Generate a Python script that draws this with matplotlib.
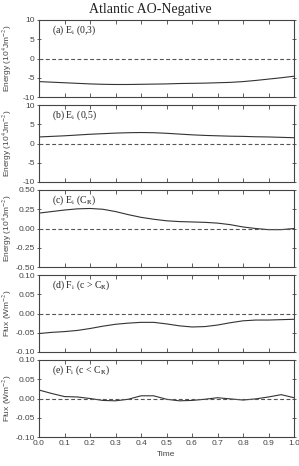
import matplotlib
matplotlib.use("Agg")
import matplotlib.pyplot as plt
import numpy as np

time = [0.0, 0.05, 0.1, 0.15, 0.2, 0.25, 0.3, 0.35, 0.4, 0.45, 0.5,
        0.55, 0.6, 0.65, 0.7, 0.75, 0.8, 0.85, 0.9, 0.95, 1.0]

ei_03 = [-6.0, -6.15, -6.3, -6.45, -6.6, -6.7, -6.75, -6.75, -6.7, -6.65, -6.6,
         -6.5, -6.45, -6.4, -6.3, -6.2, -6.0, -5.7, -5.35, -5.0, -4.6]
ei_05 = [1.7, 1.85, 2.0, 2.2, 2.4, 2.55, 2.7, 2.8, 2.85, 2.8, 2.65,
         2.45, 2.25, 2.1, 2.0, 1.9, 1.85, 1.75, 1.7, 1.6, 1.5]
ei_cr = [0.20, 0.22, 0.24, 0.255, 0.26, 0.25, 0.22, 0.18, 0.145, 0.12, 0.10,
         0.09, 0.085, 0.08, 0.07, 0.05, 0.02, 0.0, -0.015, -0.015, 0.0]
fi_gt = [-0.052, -0.049, -0.047, -0.044, -0.039, -0.033, -0.028, -0.025, -0.023, -0.023, -0.027,
         -0.032, -0.035, -0.034, -0.030, -0.024, -0.019, -0.017, -0.017, -0.016, -0.015]
fi_lt = [0.022, 0.013, 0.005, 0.004, 0.0, -0.005, -0.006, -0.002, 0.007, 0.007, -0.002,
         -0.006, -0.005, -0.002, 0.002, -0.001, -0.004, -0.001, 0.004, 0.010, 0.002]

series = [ei_03, ei_05, ei_cr, fi_gt, fi_lt]
labels = [r"(a) E$_\mathrm{i}$ (0,3)", r"(b) E$_\mathrm{i}$ (0,5)", r"(c) E$_\mathrm{i}$ (C$_\mathrm{R}$)",
          r"(d) F$_\mathrm{i}$ (c > C$_\mathrm{R}$)", r"(e) F$_\mathrm{i}$ (c < C$_\mathrm{R}$)"]
ylims = [(-10, 10), (-10, 10), (-0.5, 0.5), (-0.1, 0.1), (-0.1, 0.1)]
yticks = [[-10, -5, 0, 5, 10], [-10, -5, 0, 5, 10], [-0.5, -0.25, 0, 0.25, 0.5],
          [-0.1, -0.05, 0, 0.05, 0.1], [-0.1, -0.05, 0, 0.05, 0.1]]
yfmt = ["{:.0f}", "{:.0f}", "{:.2f}", "{:.2f}", "{:.2f}"]
ylabels = [r"Energy (10$^4$Jm$^{-2}$)", r"Energy (10$^4$Jm$^{-2}$)", r"Energy (10$^4$Jm$^{-2}$)",
           r"Flux (Wm$^{-2}$)", r"Flux (Wm$^{-2}$)"]
xticks = [0.0, 0.1, 0.2, 0.3, 0.4, 0.5, 0.6, 0.7, 0.8, 0.9, 1.0]

W, H = 299, 466
plt.rcParams['mathtext.fontset'] = 'stix'
plt.rcParams['axes.unicode_minus'] = False
fig = plt.figure(figsize=(W / 100, H / 100), dpi=100)
tops = [20, 105, 190, 275, 360]
ph = 77
left, right = 39, 294
sans = 'Liberation Sans'
tc = '#444444'
for i in range(5):
    ax = fig.add_axes([left / W, 1 - (tops[i] + ph) / H, (right - left) / W, ph / H])
    ax.plot(time, series[i], color='#333333', lw=0.8)
    ax.axhline(0, color='#555555', lw=0.8, ls=(0, (3.5, 2.2)))
    ax.set_xlim(0, 1)
    ax.set_ylim(*ylims[i])
    ax.set_yticks(yticks[i])
    ax.set_yticklabels([yfmt[i].format(v).replace("-0.00", "0.00") for v in yticks[i]],
                       fontsize=6.0, family=sans, color=tc)
    ax.set_xticks(xticks)
    ax.tick_params(axis='x', direction='in', top=True, bottom=True, length=3, width=0.6, pad=2,
                   color='#444444')
    ax.tick_params(axis='y', direction='inout', left=True, right=True, length=3, width=0.6, pad=1.5,
                   color='#444444')
    ax.set_ylabel(ylabels[i], fontsize=6, family=sans, color=tc)
    ax.yaxis.set_label_coords(-0.098, 0.5)
    for s in ax.spines.values():
        s.set_linewidth(0.8)
        s.set_color('#444444')
    ax.text(0.05, 0.87, labels[i], transform=ax.transAxes, fontsize=7, family='Liberation Serif',
            color='#222222', va='center')
    if i < 4:
        ax.set_xticklabels([])
    else:
        ax.set_xticklabels([f"{v:.1f}" for v in xticks], fontsize=6.0, family=sans, color=tc)
        ax.set_xlabel("Time", fontsize=6, family=sans, color=tc, labelpad=3)
fig.text(150 / W, 1 - 9 / H, "Atlantic AO-Negative", ha='center', va='center',
         fontsize=10, family='Liberation Serif', color='#222222')
fig.savefig("out.png", dpi=100)
